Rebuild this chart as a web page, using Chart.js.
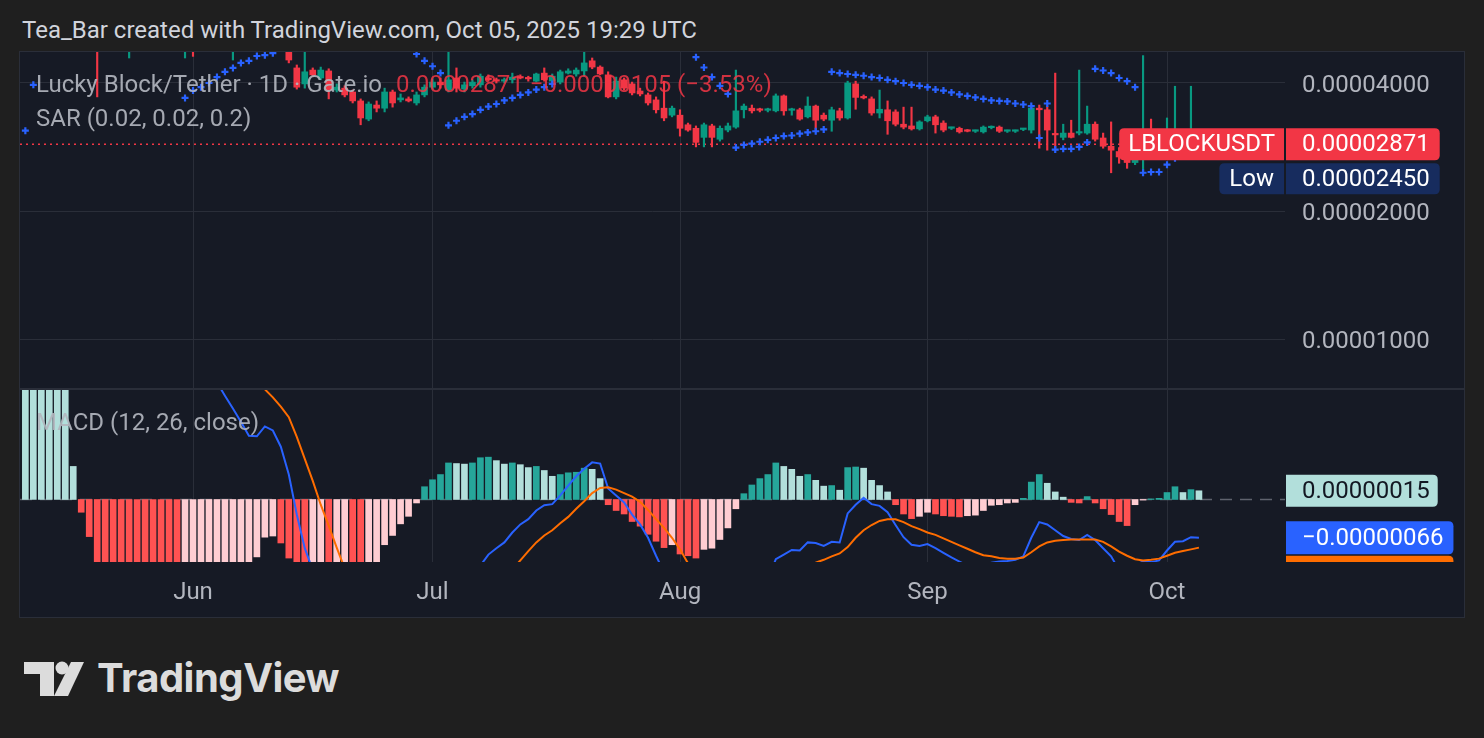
<!DOCTYPE html>
<html>
<head>
<meta charset="utf-8">
<script src="https://cdn.jsdelivr.net/npm/chart.js@4.4.1/dist/chart.umd.min.js"></script>
<style>
html, body { margin: 0; padding: 0; width: 1484px; height: 738px; overflow: hidden; background: #1f1f1f; font-family: Roboto, "Noto Sans", sans-serif; }
#title { position: absolute; left: 22px; top: 15px; font-size: 24px; line-height: 30px; color: #d1d4dc; }
#pane { position: absolute; left: 20px; top: 52px; width: 1444px; height: 565px; background: #161a25; box-shadow: 0 0 0 1px #2a2e39; }
#sep { position: absolute; left: 20px; top: 388px; width: 1444px; height: 2px; background: #2a2e39; }
canvas { position: absolute; left: 20px; }
#priceCanvas { top: 52px; }
#macdCanvas { top: 390px; }
.leg { position: absolute; left: 36px; font-size: 24px; line-height: 34px; color: rgba(178, 181, 190, 0.92); white-space: pre; pointer-events: none; }
.leg .chg { color: rgba(242, 54, 69, 0.85); margin-left: 14px; }
#logo { position: absolute; left: 22px; top: 660px; }
#brand { position: absolute; left: 97px; top: 654px; font-size: 40px; line-height: 48px; font-weight: 700; color: #dcdcdc; font-family: Inter, Roboto, sans-serif; letter-spacing: -0.5px; }
</style>
</head>
<body>
<div id="title">Tea_Bar created with TradingView.com, Oct 05, 2025 19:29 UTC</div>
<div id="pane"></div>
<canvas id="priceCanvas" width="1444" height="336"></canvas>
<div id="sep"></div>
<canvas id="macdCanvas" width="1444" height="227"></canvas>
<div class="leg" style="top:67px">Lucky Block/Tether · 1D · Gate.io<span class="chg">0.00002871 −0.00000105 (−3.53%)</span></div>
<div class="leg" style="top:101px">SAR (0.02, 0.02, 0.2)</div>
<div class="leg" style="top:405px">MACD (12, 26, close)</div>
<svg id="logo" width="64" height="38" viewBox="0 0 64 38">
  <path d="M2 2 H32 V36 H18 V14 H2 Z" fill="#dcdcdc"/>
  <circle cx="40" cy="8" r="6.5" fill="#dcdcdc"/>
  <path d="M49 2 H62 L46 36 H32 Z" fill="#dcdcdc"/>
</svg>
<div id="brand">TradingView</div>
<script>
// Days counted from Jun 1 2025 (0 = Jun 1), first visible bar is day -21
var startDay = -21;
// Prices in units of 0.000001 USDT
var open = [
  70, 75, 84, 80, 72, 66, 62, 57, 54, 51,
  48.5, 53, 51, 52, 54, 53, 55, 58, 55, 52,
  50, 54, 51, 53, 56, 55, 57, 60, 58, 59,
  57, 55, 53, 50, 43.4, 39.8, 42.9, 41.1, 42.7, 38.5,
  38.9, 38.1, 36.3, 32.9, 35.5, 34.9, 38.1, 36.5, 36.7, 35.9,
  37.5, 39.1, 40.2, 38.5, 41.1, 38.7, 39.4, 39.6, 41.1, 40.7,
  40.4, 40.7, 41.3, 41.1, 40.4, 42.2, 40.4, 40.2, 42.2, 42.0,
  42.7, 45.1, 43.6, 41.8, 37.1, 40.7, 39.8, 38.3, 37.5, 36.5,
  34.9, 33.6, 33.6, 31.9, 31.3, 29.8, 31.7, 29.5, 31.0, 31.5,
  34.6, 34.9, 34.6, 34.5, 34.4, 37.3, 34.5, 34.6, 33.3, 35.3,
  33.6, 32.7, 34.4, 33.1, 39.8, 37.1, 36.7, 34.0, 34.6, 34.2,
  32.0, 31.7, 31.2, 32.6, 33.3, 32.2, 31.3, 31.3, 30.9, 30.8,
  30.7, 31.4, 31.5, 30.8, 30.8, 31.1, 31.0, 34.9, 34.6, 30.4,
  29.8, 30.5, 30.5, 30.5, 32.0, 29.7, 28.4, 27.6, 26.8, 26.0,
  27.4, 29.0, 28.4, 28.9, 29.6, 30.0, 29.4, 29.76
];
var high = [
  78, 88, 92, 86, 76, 70, 65, 60, 56, 53,
  55, 57, 54, 56, 58, 56, 60, 61, 57, 54,
  56, 57, 55, 58, 60, 59, 62, 64, 61, 63,
  60, 58, 56, 51, 44.1, 48.0, 43.4, 43.6, 43.2, 39.8,
  39.4, 38.5, 36.7, 36.1, 36.3, 38.9, 38.5, 37.7, 37.1, 38.1,
  39.6, 40.9, 41.1, 56, 43.4, 40.2, 40.7, 42.0, 41.8, 41.1,
  41.1, 42.2, 41.8, 41.5, 42.2, 43.4, 42.0, 42.9, 43.2, 43.4,
  47.3, 45.8, 43.9, 42.5, 41.3, 41.1, 40.2, 38.9, 37.9, 37.1,
  40.4, 35.3, 34.6, 32.2, 31.7, 32.2, 32.0, 31.7, 32.2, 42.9,
  35.7, 35.5, 34.9, 34.9, 37.7, 37.5, 34.9, 34.9, 37.1, 35.5,
  34.0, 35.1, 34.9, 40.4, 40.4, 37.5, 37.1, 38.5, 36.3, 34.6,
  35.1, 35.1, 32.6, 33.6, 33.6, 32.6, 31.5, 31.5, 31.1, 31.0,
  31.7, 31.7, 31.7, 31.0, 31.0, 31.3, 35.1, 35.5, 35.3, 42.2,
  32.0, 32.7, 42.9, 35.3, 32.4, 30.5, 32.4, 28.2, 27.2, 27.8,
  46.4, 32.9, 29.4, 33.1, 39.3, 30.8, 39.3, 30.4
];
var low = [
  62, 72, 78, 70, 64, 60, 55, 52, 49, 37.1,
  48, 50, 48.5, 45.8, 52, 50, 53, 54, 51, 48.5,
  45.8, 46.2, 49, 51, 53, 52, 45.3, 57, 55, 56,
  54, 52, 49.5, 44.6, 38.7, 38.9, 41.5, 40.7, 36.7, 38.1,
  37.1, 35.9, 31.9, 32.6, 34.2, 34.2, 35.1, 36.1, 36.1, 35.5,
  37.1, 38.7, 38.9, 38.1, 38.1, 38.1, 38.9, 39.1, 40.4, 40.0,
  40.0, 40.0, 40.9, 40.4, 40.2, 40.4, 40.0, 39.8, 42.0, 41.5,
  41.5, 43.2, 41.8, 36.9, 36.7, 38.5, 37.5, 37.3, 35.5, 34.0,
  32.6, 33.3, 30.0, 30.8, 28.3, 28.3, 28.3, 29.2, 30.7, 31.3,
  33.1, 34.0, 34.2, 34.2, 34.2, 33.6, 33.6, 32.7, 33.1, 30.8,
  32.6, 30.8, 32.7, 32.9, 34.7, 36.7, 33.6, 33.1, 30.3, 31.7,
  31.2, 31.0, 31.0, 32.4, 30.5, 30.7, 31.1, 30.5, 30.7, 30.6,
  30.5, 31.2, 30.6, 30.6, 30.6, 30.9, 30.5, 28.1, 27.8, 28.1,
  29.4, 29.7, 30.2, 30.3, 29.2, 28.1, 24.6, 25.9, 25.2, 25.7,
  24.5, 27.9, 27.5, 28.2, 29.0, 29.0, 28.8, 28.2
];
var close = [
  75, 84, 80, 72, 66, 62, 57, 54, 51, 48.5,
  53, 51, 52, 54, 53, 55, 58, 55, 52, 50,
  54, 51, 53, 56, 55, 57, 60, 58, 59, 57,
  55, 53, 50, 45.3, 39.1, 42.5, 41.8, 42.9, 38.5, 39.1,
  37.5, 36.3, 33.1, 35.7, 34.9, 38.1, 35.9, 36.9, 36.3, 37.5,
  39.1, 40.2, 39.6, 40.7, 38.9, 39.6, 40.2, 41.5, 40.7, 40.4,
  40.7, 41.3, 41.1, 40.9, 42.0, 40.7, 41.5, 42.5, 42.7, 42.9,
  44.6, 43.6, 42.0, 37.1, 40.4, 38.9, 37.9, 37.7, 35.9, 34.6,
  33.1, 34.9, 31.3, 31.0, 29.0, 31.9, 29.8, 31.3, 31.7, 34.4,
  35.3, 34.4, 34.5, 34.7, 37.3, 34.4, 34.6, 32.9, 35.3, 32.7,
  32.9, 34.6, 33.1, 40.0, 37.0, 36.9, 34.0, 34.7, 32.6, 32.0,
  31.5, 31.2, 32.4, 33.3, 31.9, 31.0, 31.4, 30.7, 30.8, 30.9,
  31.5, 31.6, 30.8, 30.9, 30.9, 31.2, 34.9, 34.6, 31.0, 30.2,
  30.5, 29.8, 30.7, 32.0, 29.5, 28.4, 27.8, 26.8, 26.0, 27.4,
  29.0, 28.4, 28.9, 29.6, 30.0, 29.4, 29.76, 28.71
];
var sar = [
  30.9, 39.6, 49, 53, 57, 60, 62, 63.5, 64.5, 92,
  91, 89, 87, 85, 83, 81, 79, 77, 75, 73,
  36.9, 38.4, 39.1, 40.0, 41.3, 42.5, 43.4, 44.6, 45.1, 46.3,
  46.5, 47.0, 48.6, 64, 63.2, 62.4, 61.6, 60.8, 60, 59,
  58, 57, 56, 55, 53.8, 52.6, 51.4, 50.0, 48.4, 46.8,
  45.1, 43.8, 42.2, 31.8, 32.6, 33.3, 33.8, 34.6, 35.2, 35.7,
  36.4, 36.9, 37.5, 38.0, 38.6, 39.1, 39.8, 56, 55.6, 55.2,
  54.8, 54.4, 54.0, 53.6, 53.0, 52.5, 52.0, 51.5, 51.0, 50.5,
  50.0, 49.5, 49.0, 48.3, 46.0, 43.5, 41.3, 39.4, 37.7, 28.2,
  28.6, 28.8, 29.1, 29.4, 29.7, 30.0, 30.1, 30.4, 30.6, 30.8,
  31.1, 42.5, 42.2, 42.0, 41.8, 41.6, 41.3, 41.1, 40.7, 40.4,
  40.0, 39.6, 39.4, 39.1, 38.6, 38.4, 38.0, 37.6, 37.3, 37.0,
  36.7, 36.4, 36.3, 36.2, 35.8, 35.6, 35.3, 29.7, 35.8, 27.9,
  28.0, 28.0, 28.3, 29.0, 43.2, 42.8, 42.2, 41.1, 40.4, 39.1,
  24.6, 24.7, 24.7, 25.7, 26.6, 27.2, 27.8, 28.3
];
// MACD values in units of 0.000001
var macd = [
  12.53, 12.88, 13.26, 13.56, 13.91, 14.15, 12.91, 12.06, 11.48, 10.62,
  9.88, 9.12, 8.41, 7.71, 7.03, 6.35, 5.68, 5.02, 4.36, 3.68,
  3.23, 2.88, 2.58, 2.27, 2.02, 1.79, 1.57, 1.34, 1.10, 1.09,
  1.26, 1.19, 0.91, 0.43, -0.26, -0.84, -1.22, -1.73, -1.89, -2.35,
  -2.63, -2.88, -3.03, -3.20, -3.45, -3.35, -3.34, -3.25, -3.19, -2.97,
  -2.64, -2.43, -2.24, -1.87, -1.73, -1.59, -1.41, -1.14, -0.95, -0.84,
  -0.74, -0.57, -0.43, -0.34, -0.19, -0.10, -0.08, 0.07, 0.24, 0.40,
  0.53, 0.64, 0.62, 0.19, 0.07, -0.05, -0.26, -0.43, -0.66, -0.97,
  -1.26, -1.44, -1.80, -2.07, -2.36, -2.43, -2.61, -2.63, -2.55, -2.26,
  -1.98, -1.76, -1.56, -1.38, -1.03, -0.95, -0.87, -0.88, -0.74, -0.75,
  -0.80, -0.73, -0.74, -0.24, -0.09, 0.03, -0.08, -0.11, -0.22, -0.44,
  -0.65, -0.78, -0.80, -0.77, -0.84, -0.92, -1.00, -1.07, -1.14, -1.17,
  -1.16, -1.09, -1.07, -1.06, -1.04, -0.98, -0.66, -0.39, -0.43, -0.53,
  -0.63, -0.68, -0.70, -0.61, -0.70, -0.84, -0.98, -1.22, -1.38, -1.13,
  -1.07, -1.08, -1.05, -0.88, -0.73, -0.72, -0.65, -0.66
];
var signal = [
  9.13, 9.88, 10.56, 11.16, 11.71, 12.2, 12.34, 12.28, 12.12, 11.82,
  11.43, 10.97, 10.46, 9.91, 9.33, 8.73, 8.12, 7.50, 6.87, 6.23,
  5.63, 5.08, 4.58, 4.12, 3.70, 3.32, 2.97, 2.64, 2.33, 2.08,
  1.90, 1.76, 1.60, 1.42, 1.08, 0.70, 0.32, -0.09, -0.45, -0.83,
  -1.19, -1.53, -1.83, -2.10, -2.37, -2.57, -2.72, -2.83, -2.90, -2.91,
  -2.86, -2.77, -2.66, -2.50, -2.35, -2.20, -2.04, -1.86, -1.68, -1.51,
  -1.36, -1.21, -1.05, -0.89, -0.74, -0.62, -0.53, -0.41, -0.30, -0.16,
  -0.03, 0.11, 0.20, 0.21, 0.17, 0.11, 0.05, -0.04, -0.18, -0.34,
  -0.49, -0.66, -0.86, -1.10, -1.35, -1.56, -1.77, -1.94, -2.06, -2.10,
  -2.08, -2.01, -1.92, -1.81, -1.65, -1.51, -1.38, -1.28, -1.17, -1.09,
  -1.04, -0.98, -0.93, -0.82, -0.66, -0.53, -0.44, -0.37, -0.34, -0.34,
  -0.39, -0.46, -0.51, -0.57, -0.61, -0.67, -0.73, -0.79, -0.85, -0.91,
  -0.96, -0.98, -1.01, -1.02, -1.02, -1.00, -0.91, -0.81, -0.74, -0.71,
  -0.70, -0.69, -0.69, -0.69, -0.69, -0.73, -0.81, -0.90, -0.97, -1.03,
  -1.05, -1.04, -1.02, -0.97, -0.92, -0.89, -0.86, -0.83
];
var hist = [
  3.4, 3.0, 2.7, 2.4, 2.2, 1.95, 0.57, -0.22, -0.64, -1.2,
  -1.55, -1.85, -2.05, -2.2, -2.3, -2.38, -2.44, -2.48, -2.51, -2.55,
  -2.4, -2.2, -2.0, -1.85, -1.68, -1.53, -1.40, -1.30, -1.23, -0.99,
  -0.65, -0.63, -0.75, -1.01, -1.34, -1.54, -1.50, -1.47, -1.55, -1.52,
  -1.44, -1.50, -1.56, -1.30, -1.12, -0.78, -0.62, -0.42, -0.29, -0.06,
  0.22, 0.34, 0.43, 0.63, 0.62, 0.61, 0.63, 0.72, 0.73, 0.67,
  0.61, 0.63, 0.60, 0.55, 0.57, 0.50, 0.40, 0.43, 0.46, 0.47,
  0.54, 0.52, 0.36, -0.09, -0.19, -0.25, -0.38, -0.46, -0.60, -0.72,
  -0.83, -0.78, -0.94, -0.97, -1.01, -0.86, -0.84, -0.69, -0.49, -0.16,
  0.10, 0.25, 0.36, 0.43, 0.63, 0.57, 0.52, 0.40, 0.43, 0.33,
  0.23, 0.24, 0.16, 0.55, 0.56, 0.54, 0.33, 0.24, 0.13, -0.09,
  -0.25, -0.33, -0.29, -0.22, -0.25, -0.28, -0.29, -0.30, -0.28, -0.27,
  -0.19, -0.10, -0.09, -0.06, -0.05, 0.02, 0.30, 0.43, 0.28, 0.13,
  0.04, -0.05, -0.06, 0.05, -0.06, -0.16, -0.26, -0.38, -0.45, -0.09,
  -0.01, 0.01, 0.02, 0.12, 0.22, 0.12, 0.17, 0.15
];
var monthTicks = [0, 30, 61, 92, 122];
var monthLabels = ['Jun', 'Jul', 'Aug', 'Sep', 'Oct'];
var priceTicks = [10, 20, 40];
var lastPrice = 28.71;
var lowPrice = 24.50;
var lastHist = 0.15, lastMacd = -0.66, lastSignal = -0.83;

// Visible window (days) and value ranges of the two panes
var xMin = -21.67, xMax = 136.78;
var priceMin = 7.67, priceMax = 47.31;
var macdMin = -1.078, macdMax = 1.888;

var UP = '#089981', DOWN = '#f23645', GRID = '#2a2e39', AXIS_TEXT = '#b2b5be';
var FONT = 'Roboto, "Noto Sans", sans-serif';
Chart.defaults.font.family = FONT;
Chart.defaults.font.size = 24;

var days = open.map(function (_, i) { return startDay + i; });
var candleColor = function (c) { var i = c.dataIndex; return close[i] >= open[i] ? UP : DOWN; };
var histColors = hist.map(function (v, i) {
    var p = i ? hist[i - 1] : v;
    if (v >= 0) return v > p ? '#26a69a' : '#b2dfdb';
    return v < p ? '#ff5252' : '#ffcdd2';
});
var fmt = function (v, d) { return (v < 0 ? '\u2212' : '') + (Math.abs(v) * 1e-6).toFixed(d); };
// drop the automatic label padding so the plot fills the pane exactly
var noPad = function (s) { s.paddingTop = 0; s.paddingBottom = 0; s.paddingLeft = 0; s.paddingRight = 0; };

function box(ctx, x, y, w, h, rl, rr, color) {
    ctx.beginPath();
    ctx.moveTo(x + rl, y);
    ctx.lineTo(x + w - rr, y);
    ctx.quadraticCurveTo(x + w, y, x + w, y + rr);
    ctx.lineTo(x + w, y + h - rr);
    ctx.quadraticCurveTo(x + w, y + h, x + w - rr, y + h);
    ctx.lineTo(x + rl, y + h);
    ctx.quadraticCurveTo(x, y + h, x, y + h - rl);
    ctx.lineTo(x, y + rl);
    ctx.quadraticCurveTo(x, y, x + rl, y);
    ctx.closePath();
    ctx.fillStyle = color;
    ctx.fill();
}
function tag(ctx, left, right, yc, h, text, bg, fg, rl, rr, padL, padR) {
    ctx.font = '24px ' + FONT;
    var w = ctx.measureText(text).width + padL + padR;
    var x = left !== null ? left : right - w;
    box(ctx, x, yc - h / 2, w, h, rl, rr, bg);
    ctx.fillStyle = fg;
    ctx.textAlign = 'left';
    ctx.textBaseline = 'middle';
    ctx.fillText(text, x + padL, yc + 1);
    return yc + h / 2;
}

var priceTags = {
    id: 'priceTags',
    afterDraw: function (chart) {
        var ctx = chart.ctx, a = chart.chartArea, y = chart.scales.y;
        ctx.save();
        var yc = y.getPixelForValue(lastPrice);
        tag(ctx, null, a.right - 1, yc, 32, 'LBLOCKUSDT', '#f23645', '#ffffff', 5, 0, 9, 9);
        var bottom = tag(ctx, a.right + 1, null, yc, 32, fmt(lastPrice, 8), '#f23645', '#ffffff', 0, 5, 16, 10);
        var yl = Math.max(y.getPixelForValue(lowPrice), bottom + 3 + 15.5);
        tag(ctx, null, a.right - 1, yl, 31, 'Low', '#172c5e', '#ffffff', 5, 0, 10, 10);
        tag(ctx, a.right + 1, null, yl, 31, fmt(lowPrice, 8), '#172c5e', '#ffffff', 0, 5, 16, 10);
        ctx.restore();
    }
};
var macdTags = {
    id: 'macdTags',
    afterDraw: function (chart) {
        var ctx = chart.ctx, a = chart.chartArea, y = chart.scales.y;
        ctx.save();
        var b1 = tag(ctx, a.right + 1, null, y.getPixelForValue(lastHist), 32, fmt(lastHist, 8), '#b2dfdb', '#131722', 0, 5, 16, 8);
        var y2 = Math.max(y.getPixelForValue(lastMacd), b1 + 16 + 15);
        var b2 = tag(ctx, a.right + 1, null, y2, 33, fmt(lastMacd, 8), '#2962ff', '#ffffff', 0, 5, 16, 10);
        ctx.beginPath();
        ctx.rect(0, 0, chart.width, a.bottom);
        ctx.clip();
        var y3 = Math.max(y.getPixelForValue(lastSignal), b2 + 18);
        tag(ctx, a.right + 1, null, y3, 33, fmt(lastSignal, 8), '#ff6d00', '#ffffff', 0, 5, 16, 10);
        ctx.restore();
    }
};

var monthAxis = function (showLabels) {
    return {
        type: 'linear', min: xMin, max: xMax, bounds: 'data', offset: false,
        afterBuildTicks: function (s) { s.ticks = monthTicks.map(function (v) { return { value: v }; }); },
        grid: { color: GRID, lineWidth: 1, drawTicks: false, offset: false },
        border: { display: false },
        ticks: {
            display: showLabels, color: AXIS_TEXT, padding: 17, maxRotation: 0, autoSkip: false,
            font: { size: 24 },
            callback: function (v) { return monthLabels[monthTicks.indexOf(v)]; }
        },
        afterFit: function (s) { s.height = showLabels ? 55 : 0; noPad(s); }
    };
};

new Chart(document.getElementById('priceCanvas'), {
    type: 'bar',
    data: {
        datasets: [
            {
                type: 'scatter', label: 'SAR', order: 0, clip: 0,
                data: days.map(function (d, i) { return { x: d, y: sar[i] }; }),
                pointStyle: 'cross', pointRadius: 3.5, borderWidth: 2.2,
                borderColor: '#2962ff', backgroundColor: '#2962ff'
            },
            {
                label: 'body', order: 1, clip: 0, grouped: false, barThickness: 6, minBarLength: 1.5,
                data: days.map(function (d, i) { return { x: d, y: [open[i], close[i]] }; }),
                backgroundColor: candleColor
            },
            {
                label: 'wick', order: 2, clip: 0, grouped: false, barThickness: 1.5,
                data: days.map(function (d, i) { return { x: d, y: [low[i], high[i]] }; }),
                backgroundColor: candleColor
            },
            {
                type: 'line', label: 'last', order: 3, clip: 0,
                data: [{ x: xMin, y: lastPrice }, { x: xMax, y: lastPrice }],
                borderColor: '#f23645', borderWidth: 1.5, borderDash: [2, 4], pointRadius: 0
            }
        ]
    },
    options: {
        responsive: false, animation: false, devicePixelRatio: 1,
        layout: { padding: 0, autoPadding: false },
        plugins: { legend: { display: false }, tooltip: { enabled: false } },
        scales: {
            x: monthAxis(false),
            y: {
                type: 'logarithmic', position: 'right', min: priceMin, max: priceMax, bounds: 'data',
                afterBuildTicks: function (s) { s.ticks = priceTicks.map(function (v) { return { value: v }; }); },
                grid: { color: GRID, drawTicks: false },
                border: { display: false },
                ticks: { color: AXIS_TEXT, padding: 17, labelOffset: 3, font: { size: 24 }, callback: function (v) { return fmt(v, 8); } },
                afterFit: function (s) { s.width = 179; noPad(s); }
            }
        }
    },
    plugins: [priceTags]
});

new Chart(document.getElementById('macdCanvas'), {
    type: 'bar',
    data: {
        datasets: [
            {
                type: 'line', label: 'Signal', order: 0, clip: 0,
                data: days.map(function (d, i) { return { x: d, y: signal[i] }; }),
                borderColor: '#ff6d00', borderWidth: 2, pointRadius: 0, tension: 0
            },
            {
                type: 'line', label: 'MACD', order: 1, clip: 0,
                data: days.map(function (d, i) { return { x: d, y: macd[i] }; }),
                borderColor: '#2962ff', borderWidth: 2, pointRadius: 0, tension: 0
            },
            {
                label: 'Histogram', order: 2, clip: 0, grouped: false, barThickness: 6,
                data: days.map(function (d, i) { return { x: d, y: hist[i] }; }),
                backgroundColor: histColors
            },
            {
                type: 'line', label: 'zero', order: 3, clip: 0,
                data: [{ x: xMin, y: 0 }, { x: xMax, y: 0 }],
                borderColor: 'rgba(120, 123, 134, 0.75)', borderWidth: 1.5, borderDash: [12, 8], pointRadius: 0
            }
        ]
    },
    options: {
        responsive: false, animation: false, devicePixelRatio: 1,
        layout: { padding: 0, autoPadding: false },
        plugins: { legend: { display: false }, tooltip: { enabled: false } },
        scales: {
            x: monthAxis(true),
            y: {
                type: 'linear', position: 'right', min: macdMin, max: macdMax, bounds: 'data', beginAtZero: false,
                grid: { display: false }, border: { display: false }, ticks: { display: false },
                afterFit: function (s) { s.width = 179; noPad(s); }
            }
        }
    },
    plugins: [macdTags]
});
</script>
</body>
</html>
